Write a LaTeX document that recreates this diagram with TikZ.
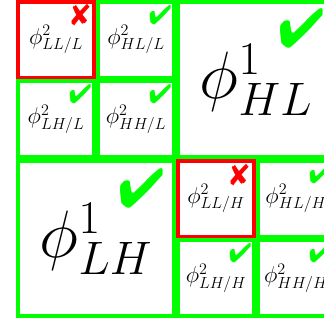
\documentclass[tikz,border=0pt]{standalone}
\usepackage{fix-cm}
\usepackage{pifont}
\usepackage{tikz}
\definecolor{KeepGreen}{HTML}{00FF00}
\definecolor{DropRed}{HTML}{FF0000}

\tikzset{
  cell/.style={draw=KeepGreen,line width=3.8pt,minimum width=76.2pt,minimum height=75.7pt,inner sep=0pt,font=\fontsize{23}{27}\selectfont},
  bigcell/.style={cell,minimum width=156.2pt,minimum height=155.2pt,font=\fontsize{67}{72}\selectfont},
  dropcell/.style={cell,draw=DropRed},
  keep/.style={text=KeepGreen,inner sep=0pt,anchor=north east,font=\fontsize{27}{29}\selectfont},
  bigkeep/.style={keep,font=\fontsize{55}{60}\selectfont},
  drop/.style={text=DropRed,inner sep=0pt,anchor=north east,font=\fontsize{30}{32}\selectfont},
}

\begin{document}
\begin{tikzpicture}[x=1pt,y=-1pt]
  \useasboundingbox (0,0) rectangle (324,323);
  % level 2, low band
  \node[dropcell] (llL) at (56,39.75) {$\phi^2_{LL/L}$};
  \node[cell] (hlL) at (136,39.75) {$\phi^2_{HL/L}$};
  \node[cell] (lhL) at (56,119.25) {$\phi^2_{LH/L}$};
  \node[cell] (hhL) at (136,119.25) {$\phi^2_{HH/L}$};
  % level 1
  \node[bigcell] (hlBig) at (256,79.5) {$\phi^1_{HL}$};
  \node[bigcell] (lhBig) at (96,238.5) {$\phi^1_{LH}$};
  % level 2, high band
  \node[dropcell] (llH) at (216,198.75) {$\phi^2_{LL/H}$};
  \node[cell] (hlH) at (296,198.75) {$\phi^2_{HL/H}$};
  \node[cell] (lhH) at (216,278.25) {$\phi^2_{LH/H}$};
  \node[cell] (hhH) at (296,278.25) {$\phi^2_{HH/H}$};
  % marks
  \node[drop] (llLmark) at ([xshift=-5pt,yshift=-4pt]llL.north east) {\ding{56}};
  \node[keep] (hlLmark) at ([xshift=-4pt,yshift=-5pt]hlL.north east) {\ding{52}};
  \node[keep] (lhLmark) at ([xshift=-4pt,yshift=-5pt]lhL.north east) {\ding{52}};
  \node[keep] (hhLmark) at ([xshift=-4pt,yshift=-5pt]hhL.north east) {\ding{52}};
  \node[bigkeep] (hlBigmark) at ([xshift=-11pt,yshift=-8pt]hlBig.north east) {\ding{52}};
  \node[bigkeep] (lhBigmark) at ([xshift=-11pt,yshift=-9pt]lhBig.north east) {\ding{52}};
  \node[drop] (llHmark) at ([xshift=-6pt,yshift=-5pt]llH.north east) {\ding{56}};
  \node[keep] (hlHmark) at ([xshift=-4pt,yshift=-5pt]hlH.north east) {\ding{52}};
  \node[keep] (lhHmark) at ([xshift=-4pt,yshift=-5pt]lhH.north east) {\ding{52}};
  \node[keep] (hhHmark) at ([xshift=-4pt,yshift=-5pt]hhH.north east) {\ding{52}};
\end{tikzpicture}
\end{document}
